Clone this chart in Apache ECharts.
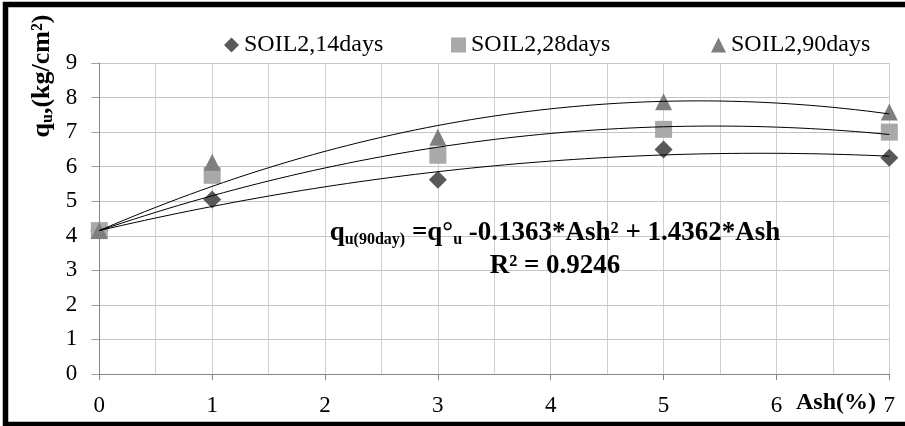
<!DOCTYPE html>
<html>
<head>
<meta charset="utf-8">
<script src="https://cdn.jsdelivr.net/npm/echarts@6/dist/echarts.min.js"></script>
<style>
  html, body { margin: 0; padding: 0; background: #fff; }
  #chart { width: 905px; height: 426px; }
</style>
</head>
<body>
<div id="chart"></div>
<script>
// Ash content (%) and unconfined compressive strength qu (kg/cm²)
const ashPct = [0, 1, 3, 5, 7];
const qu14 = [4.15, 5.05, 5.62, 6.50, 6.26];
const qu28 = [4.15, 5.75, 6.33, 7.08, 7.00];
const qu90 = [4.15, 6.13, 6.85, 7.88, 7.58];
const seriesNames = ['SOIL2,14days', 'SOIL2,28days', 'SOIL2,90days'];
const yTicks = [0, 1, 2, 3, 4, 5, 6, 7, 8, 9];
const xTicks = [0, 1, 2, 3, 4, 5, 6, 7];

const FONT = '"Liberation Serif", "Times New Roman", serif';

// Second-order polynomial trendline with the intercept held at the 0 % value:
// q = q0 + a*x^2 + b*x, least squares on the remaining points.
function quadFit(xs, ys) {
  const y0 = ys[0];
  let s4 = 0, s3 = 0, s2 = 0, s2r = 0, s1r = 0;
  for (let i = 0; i < xs.length; i++) {
    const x = xs[i], r = ys[i] - y0;
    s4 += x ** 4; s3 += x ** 3; s2 += x ** 2;
    s2r += x * x * r; s1r += x * r;
  }
  const det = s4 * s2 - s3 * s3;
  const a = (s2r * s2 - s3 * s1r) / det;
  const b = (s4 * s1r - s3 * s2r) / det;
  return { y0, a, b };
}
function curve(fit) {
  const pts = [];
  for (let i = 0; i <= 70; i++) {
    const x = i / 10;
    pts.push([x, fit.y0 + fit.a * x * x + fit.b * x]);
  }
  return pts;
}
const pairs = ys => ashPct.map((x, i) => [x, ys[i]]);

const markerColors = ['#595959', '#a9a9a9', '#7f7f7f'];
const symbols = ['diamond', 'rect', 'triangle'];
const allData = [qu14, qu28, qu90];

const scatterSeries = allData.map((ys, i) => ({
  name: seriesNames[i],
  type: 'scatter',
  data: pairs(ys),
  symbol: symbols[i],
  symbolSize: i === 0 ? 18 : 17,
  itemStyle: { color: markerColors[i], opacity: 1 },
  z: 3 + i
}));
const trendSeries = allData.map((ys, i) => ({
  name: 'trend' + i,
  type: 'line',
  data: curve(quadFit(ashPct, ys)),
  showSymbol: false,
  smooth: false,
  silent: true,
  lineStyle: { color: '#000', width: 1 },
  z: 10
}));

const legendStyle = {
  top: 28,
  orient: 'horizontal',
  itemWidth: 15,
  itemHeight: 15,
  itemGap: 0,
  textStyle: { fontFamily: FONT, fontSize: 24, color: '#000', lineHeight: 24 },
  selectedMode: false
};

const chart = echarts.init(document.getElementById('chart'), null, { renderer: 'canvas' });
chart.setOption({
  animation: false,
  backgroundColor: '#fff',
  legend: [
    Object.assign({ left: 219, data: [seriesNames[0]] }, legendStyle),
    Object.assign({ left: 446, data: [seriesNames[1]] }, legendStyle),
    Object.assign({ left: 706, data: [seriesNames[2]] }, legendStyle)
  ],
  grid: { left: 99.3, right: 15.7, top: 63, bottom: 52, containLabel: false },
  xAxis: {
    type: 'value',
    min: xTicks[0],
    max: xTicks[xTicks.length - 1],
    interval: 1,
    axisLine: { show: true, lineStyle: { color: '#868686', width: 1 } },
    axisTick: { show: true, length: 6, lineStyle: { color: '#868686' } },
    axisLabel: { fontFamily: FONT, fontSize: 23, color: '#000', margin: 20 },
    splitLine: { show: true, lineStyle: { color: '#cfcfcf', width: 1 } },
    minorTick: { show: false, splitNumber: 2 },
    minorSplitLine: { show: true, lineStyle: { color: '#cfcfcf', width: 1 } }
  },
  yAxis: {
    type: 'value',
    min: yTicks[0],
    max: yTicks[yTicks.length - 1],
    interval: 1,
    axisLine: { show: true, lineStyle: { color: '#868686', width: 1 } },
    axisTick: { show: true, length: 8, lineStyle: { color: '#a0a0a0' } },
    axisLabel: { fontFamily: FONT, fontSize: 23, color: '#000', margin: 22 },
    splitLine: { show: true, lineStyle: { color: '#c4c4c4', width: 1 } }
  },
  graphic: [
    {
      type: 'rect',
      shape: { x: 5.5, y: 4.5, width: 910, height: 420 },
      style: { fill: null, stroke: '#000', lineWidth: 5.5 },
      silent: true,
      z: 100
    },
    {
      // y-axis title
      type: 'text',
      x: 42, y: 76,
      rotation: Math.PI / 2,
      style: {
        text: '{b|q}{s|u}{b|,(kg/cm²)}',
        align: 'center',
        verticalAlign: 'middle',
        fill: '#000',
        rich: {
          b: { fontFamily: FONT, fontWeight: 'bold', fontSize: 26, lineHeight: 28, fill: '#000' },
          s: { fontFamily: FONT, fontWeight: 'bold', fontSize: 16, lineHeight: 14, verticalAlign: 'bottom', fill: '#000' }
        }
      },
      z: 50
    },
    {
      // fitted equation for the 90-day series
      type: 'text',
      x: 555, y: 233,
      style: {
        text: '{b|q}{s|u(90day)}{b| =q°}{s|u}{b| -0.1363*Ash² + 1.4362*Ash}',
        align: 'center',
        verticalAlign: 'middle',
        fill: '#000',
        rich: {
          b: { fontFamily: FONT, fontWeight: 'bold', fontSize: 27, lineHeight: 30, fill: '#000' },
          s: { fontFamily: FONT, fontWeight: 'bold', fontSize: 16, lineHeight: 14, verticalAlign: 'bottom', fill: '#000' }
        }
      },
      z: 50
    },
    {
      type: 'text',
      x: 555, y: 266,
      style: {
        text: 'R² = 0.9246',
        align: 'center',
        verticalAlign: 'middle',
        fontFamily: FONT, fontWeight: 'bold', fontSize: 27, fill: '#000'
      },
      z: 50
    },
    {
      // x-axis title
      type: 'text',
      x: 836, y: 403,
      style: {
        text: 'Ash(%)',
        align: 'center',
        verticalAlign: 'middle',
        fontFamily: FONT, fontWeight: 'bold', fontSize: 24, fill: '#000'
      },
      z: 50
    }
  ],
  series: scatterSeries.concat(trendSeries)
});
</script>
</body>
</html>
